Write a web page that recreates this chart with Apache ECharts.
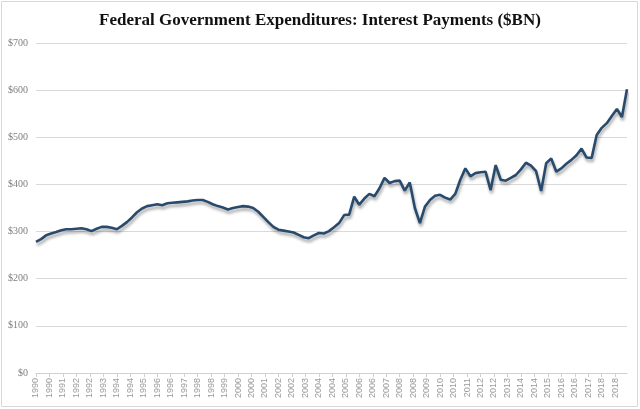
<!DOCTYPE html>
<html>
<head>
<meta charset="utf-8">
<script src="https://cdn.jsdelivr.net/npm/echarts@6/dist/echarts.min.js"></script>
<style>
html,body{margin:0;padding:0;background:#fff;}
#main{width:640px;height:409px;}
</style>
</head>
<body>
<div id="main"></div>
<script>
// quarterly interest payments, 1990 Q1 onwards ($BN)
var values = [
	278, 284, 292, 296, 299, 303, 305, 305, 306, 307,
	305, 301, 306, 310, 310, 308, 305, 312, 320, 330,
	341, 349, 354, 356, 358, 356, 360, 361, 362, 363,
	364, 366, 367, 367, 363, 358, 354, 351, 347, 350,
	352, 354, 353, 350, 342, 331, 320, 310, 304, 302,
	300, 298, 293, 288, 286, 292, 297, 296, 301, 309,
	318, 335, 336, 374, 357, 370, 380, 375, 392, 414,
	403, 407, 408, 387, 404, 350, 318, 353, 367, 376,
	378, 372, 368, 380, 410, 434, 417, 424, 426, 427,
	388, 441, 410, 408, 414, 420, 432, 446, 440, 428,
	386, 445, 455, 427, 434, 444, 452, 462, 476, 457,
	456, 505, 520, 530, 545, 560, 543, 602
];
var yTicks = [0, 100, 200, 300, 400, 500, 600, 700];

// monthly category slots, labels every 8 months like the original
var months = [];
for (var y = 1990; months.length < values.length * 3 - 2; y++) {
	for (var m = 1; m <= 12 && months.length < values.length * 3 - 2; m++) {
		months.push(y + '-' + (m < 10 ? '0' + m : m));
	}
}

var points = [];
for (var i = 0; i < values.length; i++) {
	points.push([i * 3, values[i]]);
}

var myChart = echarts.init(document.getElementById('main'));
var option = {
	backgroundColor: '#fff',
	animation: false,
	title: {
		text: 'Federal Government Expenditures: Interest Payments ($BN)',
		left: 'center',
		top: 7,
		textStyle: {
			fontFamily: 'Liberation Serif',
			fontSize: 17,
			fontWeight: 'bold',
			color: '#111'
		}
	},
	graphic: [{
		type: 'rect',
		shape: {x: 1.5, y: 1.5, width: 636, height: 405},
		style: {fill: 'none', stroke: '#d9d9d9', lineWidth: 1},
		silent: true
	}],
	grid: {left: 36, right: 13, top: 43, bottom: 36},
	xAxis: {
		type: 'category',
		data: months,
		boundaryGap: false,
		axisLine: {lineStyle: {color: '#d0d0d0'}},
		axisTick: {interval: 7, length: 4, lineStyle: {color: '#d0d0d0'}},
		axisLabel: {
			interval: 7,
			rotate: 90,
			fontSize: 9,
			fontFamily: 'Liberation Sans',
			color: '#999',
			margin: 5,
			formatter: function (v) { return v.substring(0, 4); }
		},
		splitLine: {show: false}
	},
	yAxis: {
		type: 'value',
		min: yTicks[0],
		max: yTicks[yTicks.length - 1],
		interval: 100,
		axisLine: {show: false},
		axisTick: {show: false},
		axisLabel: {
			fontSize: 10,
			fontFamily: 'Liberation Serif',
			color: '#7f7f7f',
			margin: 8,
			formatter: function (v) { return '$' + v; }
		},
		splitLine: {lineStyle: {color: '#d9d9d9'}}
	},
	series: [{
		type: 'line',
		data: points,
		symbol: 'none',
		lineStyle: {
			color: '#284a6c',
			width: 2.6,
			shadowColor: 'rgba(0,0,0,0.35)',
			shadowBlur: 3,
			shadowOffsetX: 1,
			shadowOffsetY: 3
		}
	}]
};
myChart.setOption(option);
</script>
</body>
</html>
